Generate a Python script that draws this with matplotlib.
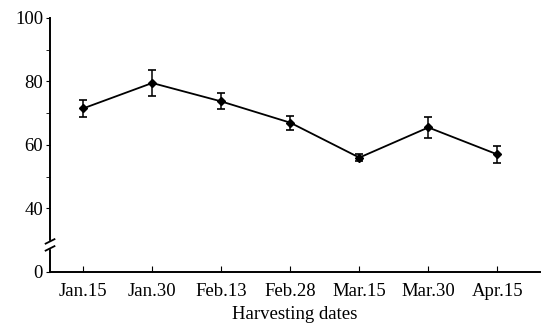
import numpy as np
import matplotlib
matplotlib.use("Agg")
import matplotlib.pyplot as plt
import matplotlib.transforms as mtransforms

# data
dates = ["Jan.15", "Jan.30", "Feb.13", "Feb.28", "Mar.15", "Mar.30", "Apr.15"]
values = [71.5, 79.5, 73.7, 67.0, 56.0, 65.5, 57.0]
errors = [2.6, 4.2, 2.5, 2.2, 1.0, 3.3, 2.8]

ytick_vals = [20, 40, 60, 80, 100]   # 20 stands for the broken-axis "0"
ytick_labels = ["0", "40", "60", "80", "100"]

plt.rcParams['font.family'] = ['Liberation Serif', 'DejaVu Serif']

fig = plt.figure(figsize=(5.44, 3.26), dpi=100)
ax = fig.add_axes([0.092, 0.166, 0.901, 0.779])

x = np.arange(len(dates))
ax.errorbar(x, values, yerr=errors, color="black", lw=1.3, marker="D",
            ms=4, capsize=3, capthick=1.2, elinewidth=1.1)

ax.set_xlim(-0.48, 6.62)
ax.set_ylim(20, 100)
ax.set_xticks(x)
ax.set_xticklabels(dates, fontsize=13.5)
ax.set_yticks(ytick_vals)
ax.set_yticklabels(ytick_labels, fontsize=13.5)
ax.set_yticks([50, 70, 90], minor=True)
ax.tick_params(axis="x", direction="in", length=4, pad=8)
ax.tick_params(axis="y", which="both", direction="out", length=3, pad=2)
ax.set_xlabel("Harvesting dates", fontsize=13.5, labelpad=4)

for s in ["top", "right"]:
    ax.spines[s].set_visible(False)
ax.spines["left"].set_linewidth(1.4)
ax.spines["bottom"].set_linewidth(1.4)

# axis break marks
trans = mtransforms.blended_transform_factory(ax.transAxes, ax.transData)
ax.fill_between([-0.012, 0.012], 27.4, 29.6, color="white", transform=trans,
                clip_on=False, zorder=5)
for yb in [27.4, 29.6]:
    ax.plot([-0.009, 0.009], [yb - 0.7, yb + 0.7], color="black", lw=1.3,
            transform=trans, clip_on=False, zorder=6)

fig.savefig("out.png", dpi=100)
